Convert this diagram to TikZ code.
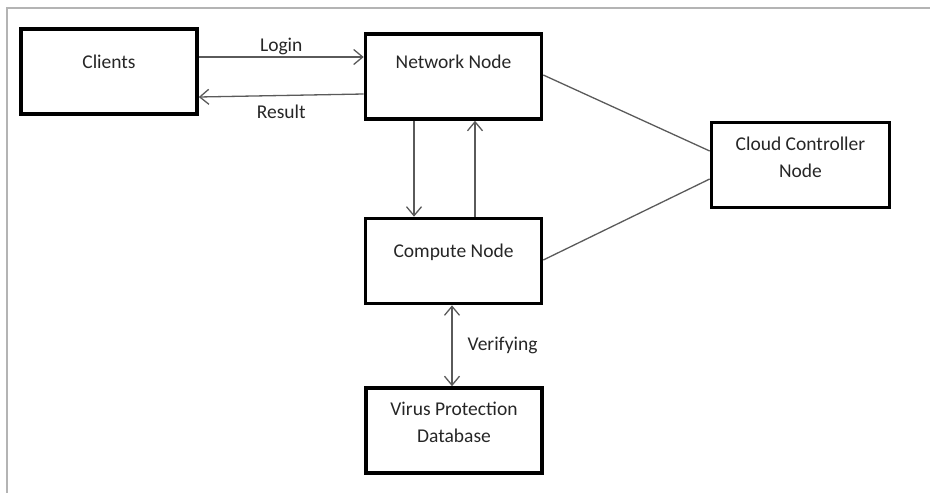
\documentclass[tikz,border=0pt]{standalone}
\usepackage{fontspec}
\setmainfont{Carlito}
\usetikzlibrary{arrows.meta,positioning}
\definecolor{framegray}{HTML}{B4B4B4}
\definecolor{linkgray}{HTML}{5A5A5A}
\definecolor{textgray}{HTML}{262626}
\tikzset{
  comp box/.style={draw,line width=3.6pt,minimum width=176pt,minimum height=85pt,inner sep=0pt,
    align=center,text=textgray,font=\fontsize{19.5}{27}\selectfont,text depth=20pt},
  two line/.style={text depth=16pt},
  link edge/.style={-{Straight Barb[length=9pt,width=15pt]},line width=1.3pt,linkgray},
  both edge/.style={link edge,{Straight Barb[length=9pt,width=15pt]}-{Straight Barb[length=9pt,width=15pt]}},
  plain link/.style={line width=1.3pt,linkgray},
  edge label/.style={text=textgray,font=\fontsize{19.5}{24}\selectfont,inner sep=1pt},
}

\begin{document}
\begin{tikzpicture}[x=1pt,y=-1pt]
  \useasboundingbox (0,0) rectangle (930,493);
  \draw[framegray,line width=2pt] (6.5,493) -- (6.5,7.5) -- (930,7.5);
  \node[comp box] (clients) at (109,71.5) {Clients};
  \node[comp box,text depth=30pt] (network) at (453.5,76.5) {Network Node};
  \node[comp box] (compute) at (453.5,261) {Compute Node};
  \node[comp box,two line] (virus) at (454,430.5) {Virus Protection\\Database};
  \node[comp box,two line,minimum width=178pt] (cloud) at (800.5,165) {Cloud Controller\\Node};
  % client <-> network
  \draw[link edge] ([yshift=14.5pt]clients.east) -- ([yshift=14.5pt]clients.east -| network.west)
    node[edge label,midway,above=1pt] (login) {Login};
  \draw[link edge] ([yshift=-17.5pt]network.west) -- ([yshift=-25.5pt]clients.east)
    node[edge label,pos=0.5,below=8pt] (result) {Result};
  % network <-> compute
  \draw[link edge] ([xshift=-39.5pt]network.south) -- ([xshift=-39.5pt]network.south |- compute.north);
  \draw[link edge] ([xshift=21.5pt]compute.north) -- ([xshift=21.5pt]compute.north |- network.south);
  \draw[both edge] ([xshift=-1.5pt]compute.south) -- ([xshift=-1.5pt]compute.south |- virus.north)
    node[edge label,midway,right=14pt] (verify) {Verifying};
  % controller links
  \draw[plain link] ([yshift=1.5pt]network.east) -- ([yshift=14pt]cloud.west);
  \draw[plain link] ([yshift=1pt]compute.east) -- ([yshift=-14pt]cloud.west);
\end{tikzpicture}
\end{document}
